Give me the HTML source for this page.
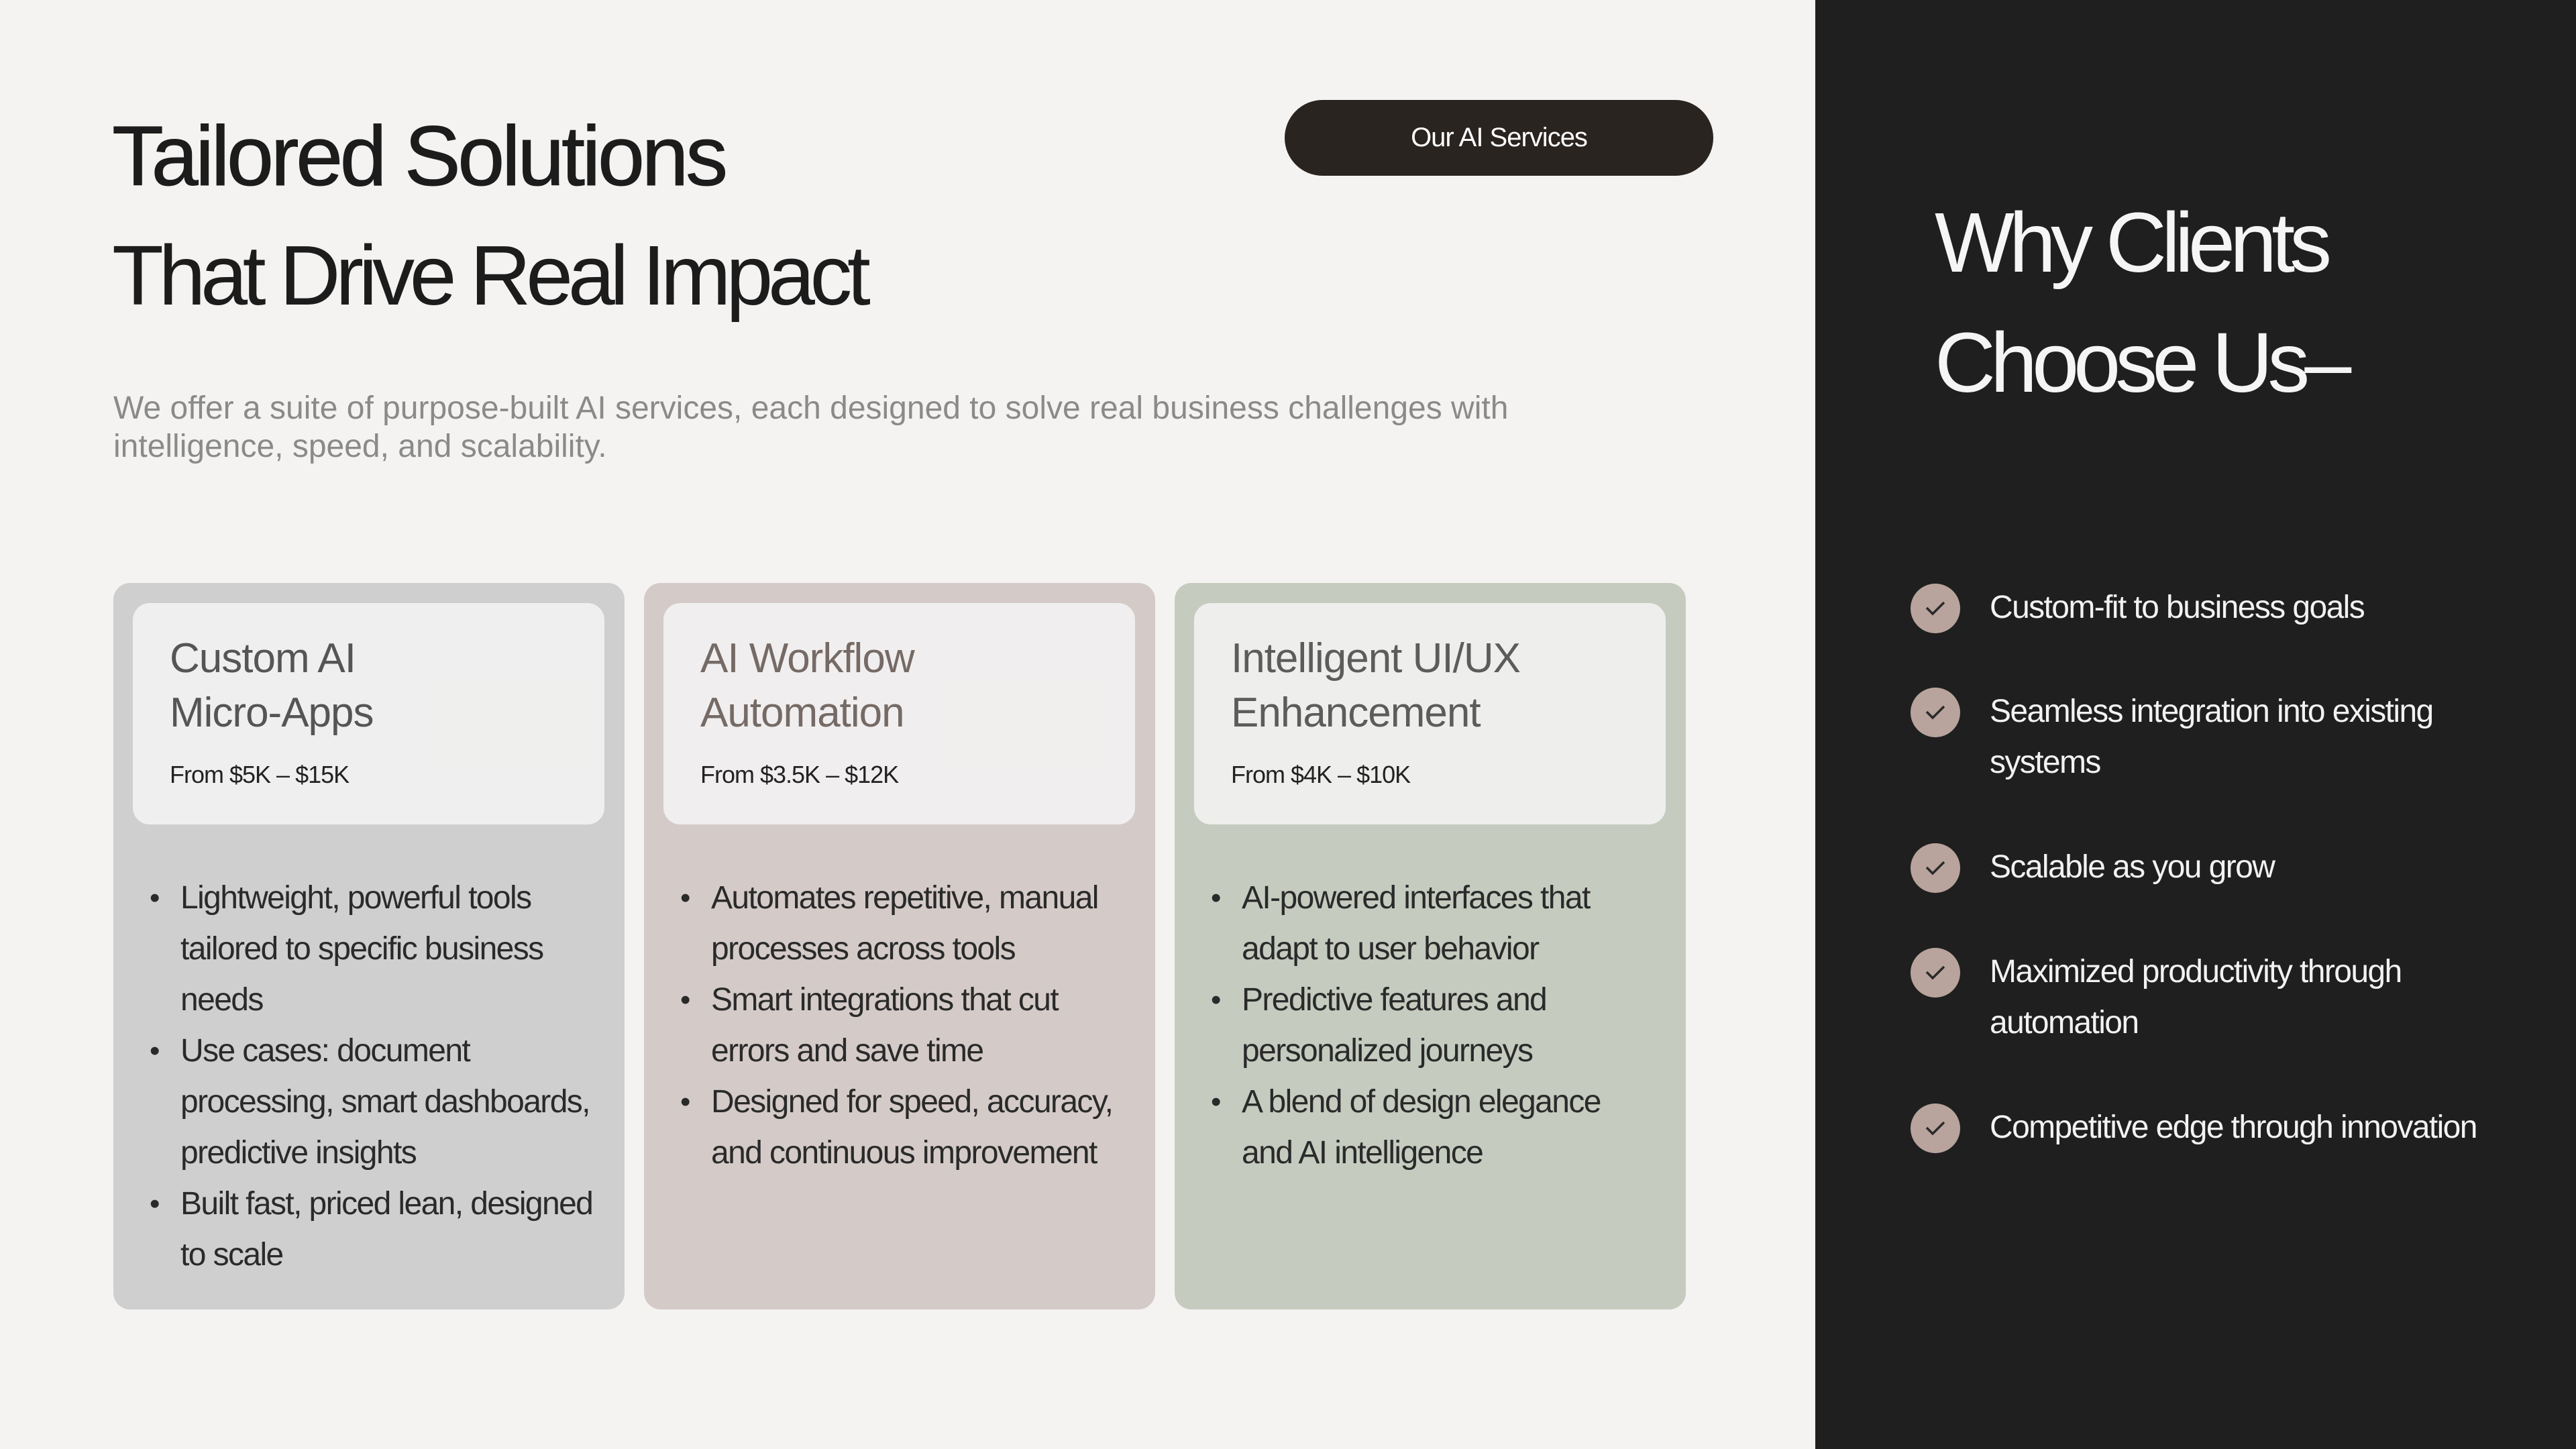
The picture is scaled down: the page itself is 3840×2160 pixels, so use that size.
<!DOCTYPE html>
<html><head><meta charset="utf-8">
<style>
*{margin:0;padding:0;box-sizing:border-box}
body{width:3840px;height:2160px;overflow:hidden;background:#f4f3f1;font-family:"Liberation Sans",sans-serif;position:relative}
.abs{position:absolute;white-space:nowrap}
#right{position:absolute;left:2706px;top:0;width:1134px;height:2160px;background:#1f1f1f}
.card{position:absolute;top:869px;width:762px;height:1083px;border-radius:25px}
.inner{position:absolute;left:29px;top:30px;width:703px;height:330px;border-radius:25px;background:rgba(245,245,244,0.85)}
.ct{position:absolute;left:55px;top:42px;font-size:62px;line-height:81px;letter-spacing:-1px}
.price{position:absolute;left:55px;top:235px;font-size:36px;color:#222;letter-spacing:-1px}
.bul{position:absolute;left:100px;top:432px;font-size:48px;line-height:76px;color:#2a2a2a;letter-spacing:-1.6px}
.bul div{position:relative;white-space:nowrap}
.bul .b::before{content:"•";position:absolute;left:-46px;font-size:44px}
.chk{position:absolute;left:2848px;width:74px;height:74px;border-radius:50%;background:#b8a49c}
.chk svg{position:absolute;left:20px;top:22px}
.rt{position:absolute;left:2966px;font-size:48px;line-height:76px;color:#f2f2f2;letter-spacing:-1.6px;white-space:nowrap}
</style></head><body>
<div class="abs" style="left:167px;top:160px;font-size:126px;color:#1c1c1c;letter-spacing:-4.5px;-webkit-text-stroke:1px #1c1c1c">Tailored Solutions</div>
<div class="abs" style="left:167px;top:338px;font-size:126px;color:#1c1c1c;letter-spacing:-7.5px">That Drive Real Impact</div>
<div class="abs" style="left:1915px;top:149px;width:639px;height:113px;border-radius:57px;background:#2a2421;color:#fff;font-size:40px;line-height:113px;text-align:center;letter-spacing:-1px">Our AI Services</div>
<div class="abs" style="left:169px;top:580px;font-size:48px;line-height:57px;color:#8a8a8a;letter-spacing:0px">We offer a suite of purpose-built AI services, each designed to solve real business challenges with<br>intelligence, speed, and scalability.</div>

<div class="card" style="left:169px;background:#cfcfcf">
 <div class="inner">
  <div class="ct" style="color:#555">Custom AI<br>Micro-Apps</div>
  <div class="price">From $5K – $15K</div>
 </div>
 <div class="bul">
  <div class="b">Lightweight, powerful tools</div><div>tailored to specific business</div><div>needs</div>
  <div class="b">Use cases: document</div><div>processing, smart dashboards,</div><div>predictive insights</div>
  <div class="b">Built fast, priced lean, designed</div><div>to scale</div>
 </div>
</div>
<div class="card" style="left:960px;background:#d4cbc8">
 <div class="inner">
  <div class="ct" style="color:#756a65">AI Workflow<br>Automation</div>
  <div class="price">From $3.5K – $12K</div>
 </div>
 <div class="bul">
  <div class="b">Automates repetitive, manual</div><div>processes across tools</div>
  <div class="b">Smart integrations that cut</div><div>errors and save time</div>
  <div class="b">Designed for speed, accuracy,</div><div>and continuous improvement</div>
 </div>
</div>
<div class="card" style="left:1751px;background:#c5cbbf">
 <div class="inner">
  <div class="ct" style="color:#5c5c5c">Intelligent UI/UX<br>Enhancement</div>
  <div class="price">From $4K – $10K</div>
 </div>
 <div class="bul">
  <div class="b">AI-powered interfaces that</div><div>adapt to user behavior</div>
  <div class="b">Predictive features and</div><div>personalized journeys</div>
  <div class="b">A blend of design elegance</div><div>and AI intelligence</div>
 </div>
</div>

<div id="right"></div>
<div class="abs" style="left:2884px;top:272px;font-size:126px;line-height:179px;color:#f5f5f5;letter-spacing:-8px">Why Clients<br>Choose Us–</div>

<div class="chk" style="top:870px"><svg width="34" height="30" viewBox="0 0 34 30"><path d="M4 14 L13 23 L30 6" fill="none" stroke="#2a2a2a" stroke-width="3.5"/></svg></div>
<div class="rt" style="top:868px">Custom-fit to business goals</div>
<div class="chk" style="top:1025px"><svg width="34" height="30" viewBox="0 0 34 30"><path d="M4 14 L13 23 L30 6" fill="none" stroke="#2a2a2a" stroke-width="3.5"/></svg></div>
<div class="rt" style="top:1023px">Seamless integration into existing<br>systems</div>
<div class="chk" style="top:1257px"><svg width="34" height="30" viewBox="0 0 34 30"><path d="M4 14 L13 23 L30 6" fill="none" stroke="#2a2a2a" stroke-width="3.5"/></svg></div>
<div class="rt" style="top:1255px">Scalable as you grow</div>
<div class="chk" style="top:1413px"><svg width="34" height="30" viewBox="0 0 34 30"><path d="M4 14 L13 23 L30 6" fill="none" stroke="#2a2a2a" stroke-width="3.5"/></svg></div>
<div class="rt" style="top:1411px">Maximized productivity through<br>automation</div>
<div class="chk" style="top:1645px"><svg width="34" height="30" viewBox="0 0 34 30"><path d="M4 14 L13 23 L30 6" fill="none" stroke="#2a2a2a" stroke-width="3.5"/></svg></div>
<div class="rt" style="top:1643px">Competitive edge through innovation</div>
</body></html>
